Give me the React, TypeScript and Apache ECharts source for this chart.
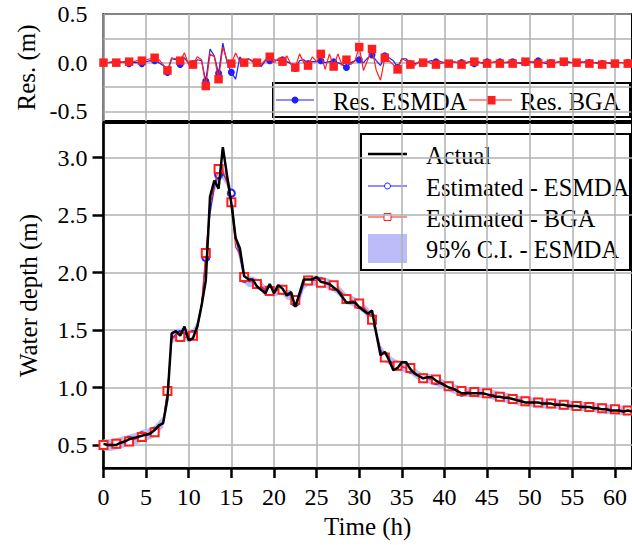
import React, { useEffect, useRef } from "react";
import * as echarts from "echarts";

// ---------- data (time step 0.5 h) ----------
const timeH: number[] = [
  0, 0.5, 1, 1.5, 2, 2.5, 3, 3.5, 4, 4.5,
  5, 5.5, 6, 6.5, 7, 7.5, 8, 8.5, 9, 9.5,
  10, 10.5, 11, 11.5, 12, 12.5, 13, 13.5, 14, 14.5,
  15, 15.5, 16, 16.5, 17, 17.5, 18, 18.5, 19, 19.5,
  20, 20.5, 21, 21.5, 22, 22.5, 23, 23.5, 24, 24.5,
  25, 25.5, 26, 26.5, 27, 27.5, 28, 28.5, 29, 29.5,
  30, 30.5, 31, 31.5, 32, 32.5, 33, 33.5, 34, 34.5,
  35, 35.5, 36, 36.5, 37, 37.5, 38, 38.5, 39, 39.5,
  40, 40.5, 41, 41.5, 42, 42.5, 43, 43.5, 44, 44.5,
  45, 45.5, 46, 46.5, 47, 47.5, 48, 48.5, 49, 49.5,
  50, 50.5, 51, 51.5, 52, 52.5, 53, 53.5, 54, 54.5,
  55, 55.5, 56, 56.5, 57, 57.5, 58, 58.5, 59, 59.5,
  60, 60.5, 61, 61.5, 62,
];

const actualDepth: number[] = [
  0.51, 0.50, 0.50, 0.50, 0.52, 0.53, 0.55, 0.56, 0.57, 0.58,
  0.59, 0.60, 0.63, 0.67, 0.69, 0.90, 1.47, 1.49, 1.45, 1.53,
  1.41, 1.43, 1.53, 1.71, 1.93, 2.66, 2.80, 2.73, 3.09, 2.84,
  2.60, 2.30, 2.21, 1.97, 1.94, 1.94, 1.88, 1.85, 1.82, 1.90,
  1.82, 1.89, 1.86, 1.80, 1.83, 1.70, 1.82, 1.94, 1.94, 1.94,
  1.96, 1.92, 1.91, 1.90, 1.87, 1.84, 1.79, 1.74, 1.74, 1.74,
  1.70, 1.67, 1.64, 1.67, 1.47, 1.28, 1.31, 1.24, 1.15, 1.17,
  1.22, 1.22, 1.16, 1.12, 1.10, 1.08, 1.09, 1.09, 1.06, 1.04,
  1.02, 1.00, 0.99, 0.97, 0.95, 0.95, 0.95, 0.95, 0.95, 0.95,
  0.94, 0.93, 0.92, 0.92, 0.91, 0.91, 0.90, 0.89, 0.88, 0.87,
  0.87, 0.87, 0.87, 0.86, 0.86, 0.86, 0.85, 0.85, 0.85, 0.84,
  0.84, 0.84, 0.83, 0.83, 0.83, 0.82, 0.82, 0.81, 0.81, 0.80,
  0.80, 0.80, 0.79, 0.80, 0.79,
];

const estEsmda: number[] = [
  0.50, 0.50, 0.50, 0.51, 0.52, 0.53, 0.54, 0.55, 0.56, 0.58,
  0.59, 0.60, 0.62, 0.66, 0.70, 0.97, 1.43, 1.46, 1.46, 1.47,
  1.44, 1.46, 1.52, 1.70, 2.13, 2.52, 2.74, 2.85, 2.86, 2.80,
  2.69, 2.30, 2.14, 1.95, 1.92, 1.92, 1.90, 1.88, 1.84, 1.85,
  1.83, 1.85, 1.85, 1.81, 1.80, 1.74, 1.78, 1.90, 1.93, 1.93,
  1.93, 1.92, 1.91, 1.90, 1.88, 1.85, 1.81, 1.77, 1.76, 1.74,
  1.72, 1.69, 1.65, 1.60, 1.48, 1.33, 1.27, 1.24, 1.21, 1.19,
  1.18, 1.17, 1.16, 1.13, 1.10, 1.08, 1.08, 1.07, 1.06, 1.04,
  1.02, 1.01, 0.99, 0.98, 0.96, 0.96, 0.96, 0.96, 0.95, 0.95,
  0.95, 0.94, 0.93, 0.92, 0.91, 0.91, 0.90, 0.89, 0.88, 0.88,
  0.87, 0.87, 0.87, 0.86, 0.86, 0.86, 0.86, 0.85, 0.85, 0.85,
  0.84, 0.84, 0.84, 0.83, 0.83, 0.83, 0.82, 0.82, 0.81, 0.81,
  0.81, 0.80, 0.80, 0.80, 0.80,
];

const estBga: number[] = [
  0.50, 0.50, 0.51, 0.51, 0.52, 0.52, 0.53, 0.55, 0.56, 0.57,
  0.58, 0.59, 0.61, 0.65, 0.70, 0.97, 1.42, 1.45, 1.44, 1.44,
  1.43, 1.45, 1.50, 1.73, 2.17, 2.58, 2.76, 2.90, 2.88, 2.78,
  2.61, 2.22, 2.16, 1.96, 1.93, 1.92, 1.90, 1.88, 1.85, 1.84,
  1.84, 1.85, 1.85, 1.82, 1.81, 1.76, 1.80, 1.92, 1.93, 1.93,
  1.93, 1.91, 1.91, 1.90, 1.89, 1.86, 1.82, 1.77, 1.76, 1.75,
  1.73, 1.70, 1.66, 1.59, 1.48, 1.32, 1.26, 1.23, 1.21, 1.19,
  1.18, 1.17, 1.17, 1.13, 1.10, 1.08, 1.08, 1.07, 1.07, 1.05,
  1.03, 1.01, 0.99, 0.98, 0.97, 0.96, 0.96, 0.96, 0.95, 0.95,
  0.95, 0.94, 0.93, 0.92, 0.91, 0.91, 0.90, 0.89, 0.89, 0.88,
  0.87, 0.87, 0.87, 0.87, 0.86, 0.86, 0.86, 0.85, 0.85, 0.85,
  0.84, 0.84, 0.84, 0.83, 0.83, 0.83, 0.82, 0.82, 0.81, 0.81,
  0.81, 0.80, 0.80, 0.80, 0.80,
];

// half width of the 95% confidence band of ESMDA
const ciHalfWidth: number[] = [
  0.050, 0.050, 0.050, 0.050, 0.050, 0.050, 0.050, 0.050, 0.050, 0.050,
  0.050, 0.050, 0.050, 0.050, 0.050, 0.050, 0.050, 0.050, 0.050, 0.050,
  0.050, 0.050, 0.050, 0.050, 0.050, 0.050, 0.050, 0.050, 0.050, 0.050,
  0.050, 0.050, 0.050, 0.045, 0.045, 0.045, 0.045, 0.045, 0.045, 0.045,
  0.045, 0.045, 0.045, 0.045, 0.045, 0.045, 0.045, 0.045, 0.045, 0.045,
  0.045, 0.045, 0.045, 0.045, 0.045, 0.045, 0.045, 0.045, 0.045, 0.045,
  0.045, 0.045, 0.045, 0.045, 0.045, 0.045, 0.045, 0.045, 0.045, 0.045,
  0.042, 0.042, 0.042, 0.042, 0.042, 0.042, 0.042, 0.042, 0.042, 0.042,
  0.042, 0.042, 0.042, 0.042, 0.042, 0.042, 0.042, 0.042, 0.042, 0.042,
  0.042, 0.042, 0.042, 0.042, 0.042, 0.042, 0.042, 0.042, 0.042, 0.042,
  0.042, 0.042, 0.042, 0.042, 0.042, 0.042, 0.042, 0.042, 0.042, 0.042,
  0.042, 0.042, 0.042, 0.042, 0.042, 0.042, 0.042, 0.042, 0.042, 0.042,
  0.042, 0.042, 0.042, 0.042, 0.042,
];

const resEsmda: number[] = [
  0.00, 0.00, 0.00, 0.00, 0.00, 0.01, -0.01, 0.00, 0.00, -0.01,
  0.01, 0.02, 0.02, 0.00, -0.03, -0.10, 0.04, 0.03, -0.02, 0.05,
  -0.01, -0.01, 0.03, 0.02, -0.19, 0.14, 0.07, -0.11, 0.20, 0.00,
  -0.10, -0.17, 0.06, 0.00, 0.04, 0.01, 0.00, -0.04, 0.02, 0.02,
  0.03, 0.02, 0.03, 0.01, -0.01, -0.06, 0.02, 0.03, -0.01, 0.01,
  0.01, 0.02, 0.00, 0.01, 0.01, 0.00, -0.02, -0.05, 0.00, 0.02,
  0.03, 0.00, 0.05, 0.08, 0.02, -0.03, 0.07, 0.05, 0.02, -0.05,
  0.04, 0.04, -0.01, -0.01, 0.00, 0.00, 0.01, 0.02, 0.01, 0.01,
  0.00, -0.01, 0.01, 0.00, 0.00, 0.00, 0.01, -0.01, 0.00, 0.00,
  0.01, 0.00, 0.01, 0.01, 0.00, 0.00, 0.01, 0.00, -0.01, 0.00,
  0.01, 0.00, 0.02, 0.00, -0.01, 0.00, 0.00, 0.01, 0.00, 0.00,
  0.00, 0.00, 0.00, 0.01, 0.00, 0.00, 0.00, -0.01, 0.00, -0.01,
  -0.01, 0.00, 0.00, 0.00, 0.00,
];

const resBga: number[] = [
  0.00, 0.00, 0.01, 0.00, 0.01, 0.00, 0.01, 0.01, 0.02, 0.02,
  0.03, 0.04, 0.05, 0.03, -0.02, -0.08, 0.05, 0.04, 0.02, 0.10,
  -0.02, -0.02, 0.06, 0.03, -0.24, 0.09, 0.06, -0.17, 0.16, 0.02,
  -0.01, 0.10, 0.01, 0.00, 0.04, 0.02, 0.00, -0.02, 0.03, 0.06,
  0.00, 0.04, 0.01, 0.07, -0.02, -0.05, 0.09, 0.00, -0.03, 0.06,
  0.01, 0.09, -0.07, 0.09, -0.04, 0.09, -0.03, 0.03, -0.02, 0.02,
  0.16, -0.08, 0.03, 0.14, -0.08, -0.18, 0.05, 0.02, -0.02, -0.07,
  0.04, 0.02, -0.02, -0.03, 0.01, 0.00, 0.01, -0.01, -0.02, -0.01,
  0.00, -0.01, 0.01, 0.00, -0.02, -0.01, 0.01, 0.01, 0.01, -0.01,
  -0.01, 0.00, 0.01, -0.01, 0.00, 0.01, -0.01, 0.00, 0.00, 0.01,
  0.00, 0.01, -0.01, 0.00, 0.01, -0.01, 0.00, 0.01, 0.01, 0.01,
  0.00, 0.00, 0.01, 0.00, -0.01, 0.00, -0.01, -0.02, 0.00, 0.00,
  -0.01, 0.00, 0.00, -0.01, 0.01,
];

const xTickValues: number[] = [0, 5, 10, 15, 20, 25, 30, 35, 40, 45, 50, 55, 60];
const depthTickValues: number[] = [0.5, 1.0, 1.5, 2.0, 2.5, 3.0];
const resTickValues: number[] = [-0.5, 0.0, 0.5];
const resGridValues: number[] = [-0.5, -0.25, 0.0, 0.25, 0.5];

const legendResLabels = ["Res. ESMDA", "Res. BGA"];
const legendMainLabels = ["Actual", "Estimated - ESMDA", "Estimated - BGA", "95% C.I. - ESMDA"];

// ---------- styles ----------
const FONT = "Liberation Serif";
const BLUE = "#1f1fff";
const RED = "#ff1f1f";
const CI_COLOR = "#bcbcf8";
const GRID_COLOR = "#b0b0b0";
const MARKER_EVERY = 3;
const TICK_FS = 24;
const LEGEND_FS = 24.4;
const NAME_FS = 25;

export default function App() {
  const ref = useRef<HTMLDivElement>(null);

  useEffect(() => {
    if (!ref.current) return;
    const chart = echarts.init(ref.current, undefined, { renderer: "svg" });

    const withMarkers = (vals: number[], sym: string) =>
      timeH.map((t, i) => ({
        value: [t, vals[i]],
        symbol: i % MARKER_EVERY === 0 ? sym : "none",
      }));
    const pairs = (vals: number[]) => timeH.map((t, i) => [t, vals[i]]);

    const GL = 103.5;
    const GW = 530;

    const xBase = {
      type: "value",
      min: 0,
      max: 62,
      axisLine: { show: false },
      splitLine: { show: true, lineStyle: { color: GRID_COLOR, width: 1.5 } },
    };

    const txt = (text: string, x: number, y: number) => ({
      type: "text",
      style: { text, x, y, fill: "#000", fontFamily: FONT, fontSize: LEGEND_FS, align: "left", verticalAlign: "middle" },
    });

    const option: any = {
      animation: false,
      backgroundColor: "#ffffff",
      grid: [
        { left: GL, top: 14, width: GW, height: 107, show: true, borderColor: "#000", borderWidth: 2, backgroundColor: "transparent" },
        { left: GL, top: 123, width: GW, height: 345, show: true, borderColor: "#000", borderWidth: 2, backgroundColor: "transparent" },
      ],
      xAxis: [
        {
          ...xBase,
          gridIndex: 0,
          axisTick: { show: false, customValues: xTickValues },
          axisLabel: { show: false, customValues: xTickValues },
        },
        {
          ...xBase,
          gridIndex: 1,
          axisLine: { show: true, onZero: false, lineStyle: { color: "#000", width: 2.5 } },
          axisTick: { show: true, customValues: xTickValues, length: 10, lineStyle: { color: "#000", width: 2.5 } },
          axisLabel: {
            customValues: xTickValues,
            color: "#000",
            fontFamily: FONT,
            fontSize: TICK_FS,
            margin: 17,
          },
          name: "Time (h)",
          nameLocation: "middle",
          nameGap: 42,
          nameTextStyle: { color: "#000", fontFamily: FONT, fontSize: NAME_FS },
        },
      ],
      yAxis: [
        {
          type: "value",
          gridIndex: 0,
          min: -0.6,
          max: 0.5,
          axisLine: { show: false },
          axisTick: { show: false, customValues: resGridValues },
          axisLabel: {
            customValues: resTickValues,
            formatter: (v: number) => v.toFixed(1),
            color: "#000",
            fontFamily: FONT,
            fontSize: TICK_FS,
            margin: 16,
          },
          splitLine: { show: true, lineStyle: { color: GRID_COLOR, width: 1.5 } },
          name: "Res. (m)",
          nameLocation: "middle",
          nameGap: 63,
          nameTextStyle: { color: "#000", fontFamily: FONT, fontSize: NAME_FS },
        },
        {
          type: "value",
          gridIndex: 0,
          min: -0.6,
          max: 0.5,
          axisLine: { show: true, onZero: false, lineStyle: { color: "#000", width: 2.5 } },
          axisTick: { show: true, customValues: resTickValues, length: 11, lineStyle: { color: "#000", width: 2.5 } },
          axisLabel: { show: false },
          splitLine: { show: false },
        },
        {
          type: "value",
          gridIndex: 1,
          min: 0.3,
          max: 3.3,
          axisLine: { show: true, onZero: false, lineStyle: { color: "#000", width: 2.5 } },
          axisTick: { show: true, customValues: depthTickValues, length: 11, lineStyle: { color: "#000", width: 2.5 } },
          axisLabel: {
            customValues: depthTickValues,
            formatter: (v: number) => v.toFixed(1),
            color: "#000",
            fontFamily: FONT,
            fontSize: TICK_FS,
            margin: 16,
          },
          splitLine: { show: true, lineStyle: { color: GRID_COLOR, width: 1.5 } },
          name: "Water depth (m)",
          nameLocation: "middle",
          nameGap: 63,
          nameTextStyle: { color: "#000", fontFamily: FONT, fontSize: NAME_FS },
        },
      ],
      series: [
        {
          name: "Res. ESMDA",
          type: "line",
          xAxisIndex: 0,
          yAxisIndex: 0,
          data: withMarkers(resEsmda, "circle"),
          showAllSymbol: true,
          symbolSize: 7,
          lineStyle: { color: BLUE, width: 1.2 },
          itemStyle: { color: BLUE },
          z: 3,
        },
        {
          name: "Res. BGA",
          type: "line",
          xAxisIndex: 0,
          yAxisIndex: 0,
          data: withMarkers(resBga, "rect"),
          showAllSymbol: true,
          symbolSize: 8.5,
          lineStyle: { color: RED, width: 1.2 },
          itemStyle: { color: RED },
          z: 4,
        },
        {
          name: "95% C.I. - ESMDA",
          type: "custom",
          xAxisIndex: 1,
          yAxisIndex: 2,
          data: [[0, estEsmda[0]]],
          clip: true,
          z: 1,
          renderItem: (params: any, api: any) => {
            if (params.dataIndex !== 0) return null;
            const pts: number[][] = [];
            for (let i = 0; i < timeH.length; i++) {
              pts.push(api.coord([timeH[i], estEsmda[i] + ciHalfWidth[i]]));
            }
            for (let i = timeH.length - 1; i >= 0; i--) {
              pts.push(api.coord([timeH[i], estEsmda[i] - ciHalfWidth[i]]));
            }
            return {
              type: "polygon",
              shape: { points: pts },
              style: { fill: CI_COLOR, stroke: "none" },
            };
          },
        },
        {
          name: "Estimated - ESMDA",
          type: "line",
          xAxisIndex: 1,
          yAxisIndex: 2,
          data: withMarkers(estEsmda, "emptyCircle"),
          showAllSymbol: true,
          symbolSize: 7,
          lineStyle: { color: BLUE, width: 1.1 },
          itemStyle: { color: BLUE, borderWidth: 1 },
          z: 3,
        },
        {
          name: "Estimated - BGA",
          type: "line",
          xAxisIndex: 1,
          yAxisIndex: 2,
          data: withMarkers(estBga, "emptyRect"),
          showAllSymbol: true,
          symbolSize: 8,
          lineStyle: { color: RED, width: 1.1 },
          itemStyle: { color: RED, borderWidth: 1 },
          z: 4,
        },
        {
          name: "Actual",
          type: "line",
          xAxisIndex: 1,
          yAxisIndex: 2,
          data: pairs(actualDepth),
          symbol: "none",
          lineStyle: { color: "#000", width: 2.5 },
          z: 5,
        },
      ],
      graphic: [
        {
          type: "group",
          z: 100,
          children: [
            { type: "rect", shape: { x: 273, y: 83, width: 357, height: 34 }, style: { fill: "#fff", stroke: "#000", lineWidth: 2 } },
            { type: "line", shape: { x1: 276, y1: 100, x2: 314, y2: 100 }, style: { stroke: BLUE, lineWidth: 1.2 } },
            { type: "circle", shape: { cx: 295, cy: 100, r: 3.5 }, style: { fill: BLUE } },
            txt(legendResLabels[0], 333, 101),
            { type: "line", shape: { x1: 469, y1: 100, x2: 512, y2: 100 }, style: { stroke: RED, lineWidth: 1.2 } },
            { type: "rect", shape: { x: 487, y: 96, width: 8.5, height: 8.5 }, style: { fill: RED } },
            txt(legendResLabels[1], 520, 101),
          ],
        },
        {
          type: "group",
          z: 100,
          children: [
            { type: "rect", shape: { x: 361, y: 134, width: 269, height: 136 }, style: { fill: "#fff", stroke: "#000", lineWidth: 2 } },
            { type: "line", shape: { x1: 368, y1: 154, x2: 407, y2: 154 }, style: { stroke: "#000", lineWidth: 2.5 } },
            txt(legendMainLabels[0], 426, 155),
            { type: "line", shape: { x1: 368, y1: 186, x2: 407, y2: 186 }, style: { stroke: BLUE, lineWidth: 1.1 } },
            { type: "circle", shape: { cx: 387.5, cy: 186, r: 3 }, style: { fill: "#fff", stroke: BLUE, lineWidth: 1 } },
            txt(legendMainLabels[1], 426, 187),
            { type: "line", shape: { x1: 368, y1: 217, x2: 407, y2: 217 }, style: { stroke: RED, lineWidth: 1.1 } },
            { type: "rect", shape: { x: 384, y: 213.5, width: 7, height: 7 }, style: { fill: "#fff", stroke: RED, lineWidth: 1 } },
            txt(legendMainLabels[2], 426, 218),
            { type: "rect", shape: { x: 368, y: 234, width: 39, height: 29 }, style: { fill: CI_COLOR } },
            txt(legendMainLabels[3], 426, 249),
          ],
        },
      ],
    };

    chart.setOption(option);
    return () => chart.dispose();
  }, []);

  return (
    <div
      ref={ref}
      style={{ position: "absolute", left: 0, top: 0, width: 632, height: 545, background: "#fff" }}
    />
  );
}
